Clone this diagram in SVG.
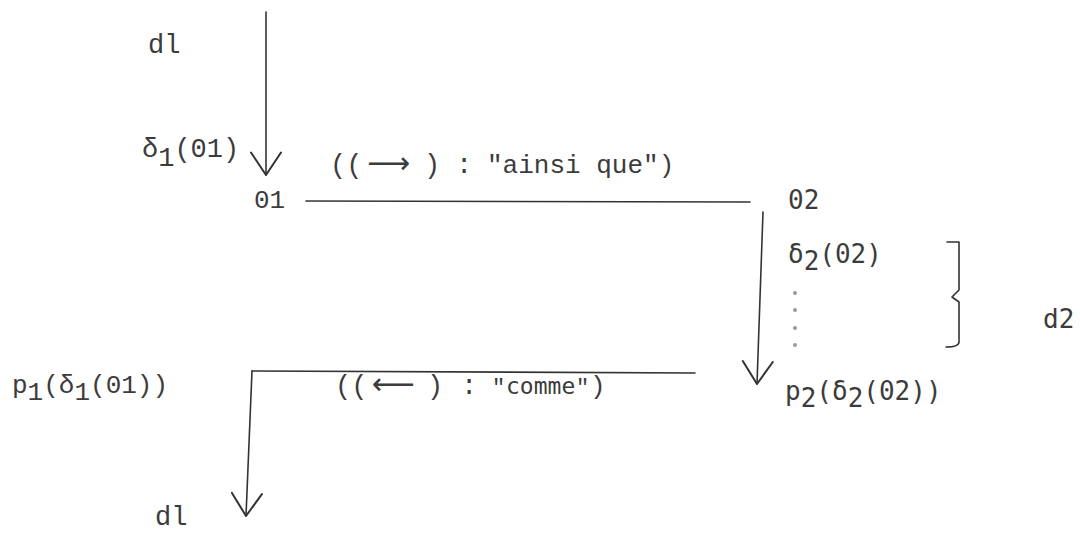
<svg xmlns="http://www.w3.org/2000/svg" width="1080" height="540" viewBox="0 0 1080 540">
  <defs>
    <style>
      .tw { font-family: "Liberation Mono", "DejaVu Sans Mono", monospace; fill: #3c3c3c; }
      .sn { font-family: "DejaVu Sans Mono", "Liberation Mono", monospace; fill: #3c3c3c; }
      .ar { font-family: "DejaVu Sans", "Noto Sans", sans-serif; fill: #3c3c3c; }
      .ln { fill: none; stroke: #333; stroke-width: 1.6; stroke-linecap: round; stroke-linejoin: round; }
      .dot { fill: #9a9a9a; stroke: none; }
    </style>
    <!-- open V arrowhead -->
    <marker id="vhead" markerUnits="userSpaceOnUse" markerWidth="40" markerHeight="40" refX="0" refY="0" viewBox="-22 -16 26 32" orient="auto" overflow="visible">
      <path d="M -18 -12 L 0 0 L -18 12" fill="none" stroke="#333" stroke-width="1.6" stroke-linecap="round" stroke-linejoin="round"/>
    </marker>
  </defs>
  <rect width="1080" height="540" fill="#fff"/>

  <!-- connectors -->
  <g id="connectors">
    <line class="ln" x1="266" y1="12" x2="266" y2="175" marker-end="url(#vhead)"/>
    <line class="ln" x1="306" y1="201" x2="750" y2="202"/>
    <line class="ln" x1="763" y1="212" x2="757" y2="384" marker-end="url(#vhead)"/>
    <line class="ln" x1="695" y1="373" x2="252" y2="371"/>
    <line class="ln" x1="252" y1="371" x2="246" y2="516" marker-end="url(#vhead)"/>
  </g>

  <!-- nodes -->
  <g id="d1-top">
    <text class="tw" x="148" y="53" font-size="27">dl</text>
  </g>
  <g id="delta1">
    <text class="tw" x="142" y="157" font-size="27">δ<tspan dy="9">1</tspan><tspan dy="-9">(01)</tspan></text>
  </g>
  <g id="o1">
    <text class="tw" x="254" y="208" font-size="26">01</text>
  </g>
  <g id="label-ainsi">
    <text class="tw" x="330" y="173" font-size="27">((</text>
    <text class="ar" x="367" y="173" font-size="30">⟶</text>
    <text class="tw" x="424" y="173" font-size="27">)</text>
    <text class="tw" x="456" y="173" font-size="27">:</text>
    <text class="tw" x="487" y="173" font-size="26">"ainsi que")</text>
  </g>
  <g id="o2">
    <text class="sn" x="788" y="209" font-size="26">02</text>
  </g>
  <g id="delta2">
    <text class="sn" x="788" y="263" font-size="26">δ<tspan dy="7">2</tspan><tspan dy="-7">(02)</tspan></text>
    <circle class="dot" cx="795" cy="293" r="2"/>
    <circle class="dot" cx="795" cy="310" r="2"/>
    <circle class="dot" cx="795" cy="328" r="2"/>
    <circle class="dot" cx="795" cy="345" r="2"/>
  </g>
  <g id="brace">
    <path class="ln" d="M 947 242 L 959 242 L 959 290 L 952 297 L 959 302 L 959 342 Q 959 347 946 347"/>
  </g>
  <g id="d2">
    <text class="sn" x="1043" y="328" font-size="26">d2</text>
  </g>
  <g id="p2">
    <text class="sn" x="785" y="400" font-size="26">p<tspan dy="7">2</tspan><tspan dy="-7">(δ</tspan><tspan dy="7">2</tspan><tspan dy="-7">(02))</tspan></text>
  </g>
  <g id="label-comme">
    <text class="tw" x="335" y="394" font-size="27">((</text>
    <text class="ar" x="372" y="394" font-size="30">⟵</text>
    <text class="tw" x="427" y="394" font-size="27">)</text>
    <text class="tw" x="461" y="394" font-size="27">:</text>
    <text class="tw" x="492" y="394" font-size="22">"</text>
    <text class="sn" x="506" y="394" font-size="23">comme</text>
    <text class="tw" x="576" y="394" font-size="22">"</text>
    <text class="tw" x="590" y="394" font-size="26">)</text>
  </g>
  <g id="p1">
    <text class="tw" x="12" y="393" font-size="26">p<tspan dy="7">1</tspan><tspan dy="-7">(δ</tspan><tspan dy="7">1</tspan><tspan dy="-7">(01))</tspan></text>
  </g>
  <g id="d1-bottom">
    <text class="tw" x="155" y="525" font-size="27">dl</text>
  </g>
</svg>
